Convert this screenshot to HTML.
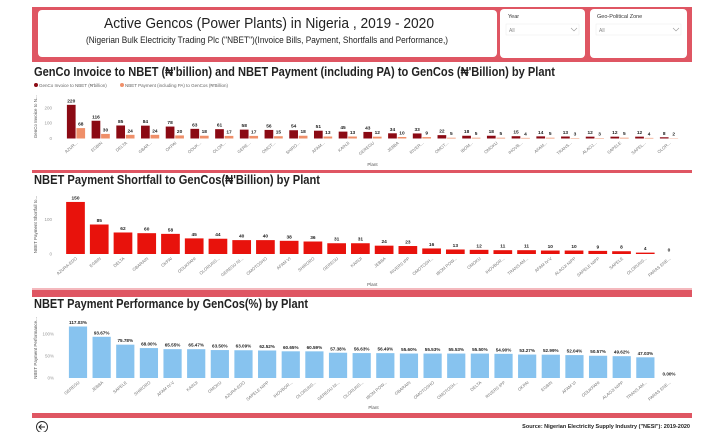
<!DOCTYPE html>
<html><head><meta charset="utf-8"><style>
html,body{margin:0;padding:0;background:#fff;}
svg{display:block;font-family:"Liberation Sans",sans-serif;}
</style></head><body>
<svg id="s" width="720" height="432" viewBox="0 0 720 432" xmlns="http://www.w3.org/2000/svg">
<rect x="32" y="7" width="660" height="55" fill="#df5663"/>
<rect x="38" y="10" width="459" height="47" rx="4" fill="#fff"/>
<text x="104" y="28" font-size="15" textLength="330" lengthAdjust="spacingAndGlyphs" fill="#222">Active Gencos (Power Plants) in Nigeria , 2019 - 2020</text>
<text x="86" y="43" font-size="9" textLength="362" lengthAdjust="spacingAndGlyphs" fill="#222">(Nigerian Bulk Electricity Trading Plc ("NBET")(Invoice Bills, Payment, Shortfalls and Performance,)</text>
<rect x="500" y="9" width="85" height="49" rx="4" fill="#fff"/>
<text x="508" y="18" font-size="5.5" fill="#333">Year</text>
<rect x="506" y="24" width="73" height="11" fill="#fff" stroke="#eee" stroke-width="0.6"/>
<text x="509" y="32" font-size="5" fill="#888">All</text>
<path d="M571 28 l3 3 l3 -3" fill="none" stroke="#999" stroke-width="0.6"/>
<rect x="590" y="9" width="97" height="49" rx="4" fill="#fff"/>
<text x="597" y="18" font-size="5.5" fill="#333">Geo-Political Zone</text>
<rect x="596" y="24" width="85" height="11" fill="#fff" stroke="#eee" stroke-width="0.6"/>
<text x="599" y="32" font-size="5" fill="#888">All</text>
<path d="M673 28 l3 3 l3 -3" fill="none" stroke="#999" stroke-width="0.6"/>

<text x="34" y="76" font-size="12.5" font-weight="bold" textLength="521" lengthAdjust="spacingAndGlyphs" fill="#222">GenCo Invoice to NBET (₦'billion) and NBET Payment (including PA) to GenCos (₦'Billion) by Plant</text>
<circle cx="36" cy="85" r="2" fill="#8b0a14"/>
<text x="39" y="87" font-size="4.5" fill="#666">GenCo Invoice to NBET (₦'billion)</text>
<circle cx="122" cy="85" r="2" fill="#f0906a"/>
<text x="125" y="87" font-size="4.5" fill="#666">NBET Payment (including PA) to GenCos (₦'Billion)</text>
<rect x="32" y="170" width="660" height="3" fill="#df5663"/>
<text x="34" y="184" font-size="12.5" font-weight="bold" textLength="286" lengthAdjust="spacingAndGlyphs" fill="#222">NBET Payment Shortfall to GenCos(₦'Billion) by Plant</text>
<rect x="32" y="288" width="660" height="2" fill="#f4b8bd"/>
<rect x="32" y="290" width="660" height="7" fill="#df5663"/>
<text x="34" y="308" font-size="12.5" font-weight="bold" textLength="274" lengthAdjust="spacingAndGlyphs" fill="#222">NBET Payment Performance by GenCos(%) by Plant</text>
<rect x="32" y="413" width="660" height="5" fill="#df5663"/>
<circle cx="42" cy="427" r="5.5" fill="none" stroke="#222" stroke-width="0.9"/>
<path d="M45 427 h-6 M41.5 424.5 l-2.5 2.5 l2.5 2.5" fill="none" stroke="#222" stroke-width="0.9"/>
<text x="690" y="428" font-size="5.5" font-weight="bold" text-anchor="end" fill="#222">Source: Nigerian Electricity Supply Industry ("NESI"): 2019-2020</text>
<g id="g"></g>
</svg>
<script>
const cats1=["AZUR...","EGBIN","DELTA","GBAR...","OKPAI","ODUK...","OLOR...","GERE...","OMOT...","SHIRO...","AFAM...","KAINJI","GEREGU","JEBBA","RIVER...","OMOT...","IBOM...","OMOKU","IHOVB...","AFAM...","TRANS...","ALAOJ...","SAPELE","SAPEL...","OLOR..."];
const invoice=[220,116,85,84,78,63,61,58,56,54,51,45,43,34,33,22,18,18,15,14,13,12,12,12,8];
const payment=[68,30,24,24,20,18,17,17,15,18,13,13,12,10,9,5,5,5,4,5,3,3,5,4,2];
const ticks1=[0,100,200];
const cats2=["AZURA-EDO","EGBIN","DELTA","GBARAIN","OKPAI","ODUKPANI","OLORUNS...","GEREGU NI...","OMOTOSHO","AFAM VI","SHIRORO","GEREGU","KAINJI","JEBBA","RIVERS IPP","OMOTOSH...","IBOM POW...","OMOKU","IHOVBOR...","TRANS AM...","AFAM IV-V","ALAOJI NIPP","SAPELE NIPP","SAPELE","OLORUNS...","PARAS ENE..."];
const shortfall=[150,85,62,60,58,45,44,40,40,38,36,31,31,24,23,16,13,12,11,11,10,10,9,8,4,0];
const ticks2=[0,100];
const cats3=["GEREGU","JEBBA","SAPELE","SHIRORO","AFAM IV-V","KAINJI","OMOKU","AZURA-EDO","SAPELE NIPP","IHOVBOR...","OLORUNS...","GEREGU NI...","OLORUNS...","IBOM POW...","GBARAIN","OMOTOSHO","OMOTOSH...","DELTA","RIVERS IPP","OKPAI","EGBIN","AFAM VI","ODUKPANI","ALAOJI NIPP","TRANS AM...","PARAS ENE..."];
const perf=[117.03,93.67,75.78,68.00,65.55,65.47,63.50,63.09,62.52,60.65,60.59,57.38,56.63,56.49,55.60,55.53,55.53,55.50,54.90,53.27,52.99,52.04,50.57,49.62,47.03,0.00];
const ticks3=[0,50,100];

const NS="http://www.w3.org/2000/svg";
const g=document.getElementById('g');
function mk(tag,attrs,txt){const e=document.createElementNS(NS,tag);for(const k in attrs)e.setAttribute(k,attrs[k]);if(txt!==undefined)e.textContent=txt;g.appendChild(e);return e;}

function chart(o){
  const n=o.cats.length;
  const step=(o.x1-o.x0)/(n-1);
  const xs=i=>o.x0+i*step;
  const ys=v=>o.base-v*o.k;
  o.ticks.forEach(t=>{
    const e=mk('text',{x:o.tickX,y:ys(t)+1.5,'font-size':4.5,'text-anchor':'end',fill:'#999'},o.tickFmt(t));
    
    
  });
  const yt=mk('text',{x:0,y:0,'font-size':4.5,fill:'#555','text-anchor':'middle',transform:`translate(${o.ytX},${(o.base+o.top)/2}) rotate(-90)`},o.ytitle);
  
  
  const xt=mk('text',{x:(o.x0+o.x1)/2,y:o.plantY,'font-size':4.5,fill:'#555','text-anchor':'middle'},'Plant');
  
  
  for(let i=0;i<n;i++){
    const cx=xs(i);
    o.series.forEach((s,j)=>{
      const v=s.vals[i];
      if(v===undefined)return;
      const bx=cx-o.bw*o.series.length/2+j*o.bw;
      const r=mk('rect',{x:bx+0.4,y:ys(v),width:o.bw-0.8,height:v*o.k,fill:s.color});
      
      
      const l=mk('text',{x:bx+o.bw/2,y:ys(v)-2.5,'font-size':o.lfs,'font-weight':'bold','text-anchor':'middle',fill:'#222'},o.valFmt(v));
      
      
    });
    const c=mk('text',{x:0,y:0,'font-size':4.3,fill:'#777','text-anchor':'end',transform:`translate(${cx+2},${o.base+5}) rotate(-40)`},o.cats[i]);
    
    
  }
}
chart({id:'chart1',cats:cats1,series:[{name:'invoice',vals:invoice,color:'#8b0a14'},{name:'payment',vals:payment,color:'#ef8f69'}],
  x0:76,x1:669,base:138.5,k:0.153,top:95,ticks:ticks1,tickFmt:t=>String(t),tickX:52,ytX:37,ytitle:'GenCo Invoice to N...',plantY:166,bw:9.5,lfs:4.8,valFmt:v=>String(v)});
chart({id:'chart2',cats:cats2,series:[{name:'shortfall',vals:shortfall,color:'#e8120c'}],
  x0:75.5,x1:669,base:254,k:0.347,top:195,ticks:ticks2,tickFmt:t=>String(t),tickX:52,ytX:37,ytitle:'NBET Payment Shortfall to...',plantY:286,bw:19.5,lfs:4.8,valFmt:v=>String(v)});
chart({id:'chart3',cats:cats3,series:[{name:'performance',vals:perf,color:'#87c3ef'}],
  x0:78,x1:669,base:378,k:0.44,top:318,ticks:ticks3,tickFmt:t=>t+'%',tickX:54,ytX:37,ytitle:'NBET Payment Performance...',plantY:409,bw:19,lfs:4.6,valFmt:v=>v.toFixed(2)+'%'});
</script>
</body></html>
